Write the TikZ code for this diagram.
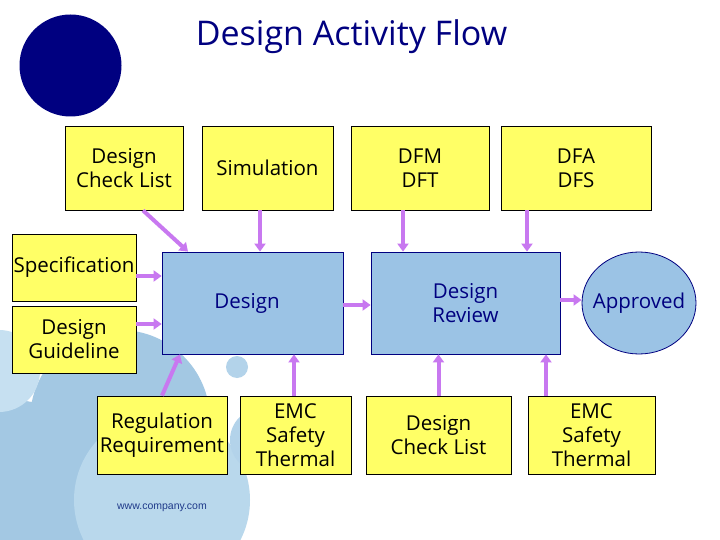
\documentclass[tikz,border=0pt]{standalone}
\usepackage{fontspec}
\setmainfont{Open Sans}
\newfontfamily\webfont{Liberation Sans}
\usetikzlibrary{arrows.meta,shapes.geometric}
\definecolor{navy}{HTML}{000080}
\definecolor{boxyellow}{HTML}{FFFF66}
\definecolor{boxblue}{HTML}{9BC3E5}
\definecolor{arrowviolet}{HTML}{C878F0}
\definecolor{bgmid}{HTML}{A3C8E3}
\definecolor{bglight}{HTML}{B9D8EC}
\definecolor{bglighter}{HTML}{C6E0F1}
\definecolor{bgsmall}{HTML}{B3D3EA}
\definecolor{webblue}{HTML}{1F3A8A}
\tikzset{
  ybox/.style={draw=black, line width=0.8pt, fill=boxyellow, inner sep=0pt, align=center,
    font=\fontsize{20.5}{24}\selectfont},
  bbox/.style={draw=navy, line width=0.8pt, fill=boxblue, text=navy, inner sep=0pt, align=center,
    font=\fontsize{20.5}{24}\selectfont},
  arr/.style={draw=arrowviolet, line width=4pt, -{Triangle[length=8pt,width=11pt]}}
}
\begin{document}
\begin{tikzpicture}[x=1pt,y=-1pt]
\useasboundingbox (0,0) rectangle (720,540);
\fill[white] (0,0) rectangle (720,540);
\begin{scope}
  \clip (0,0) rectangle (720,540);
  \fill[bgmid] (120,420) circle[radius=90];
  \fill[bgmid] (10,520) circle[radius=120];
  \fill[bglighter] (-1,371) circle[radius=41];
  \fill[bglight] (162,500) circle[radius=88];
  \fill[bgsmall] (262,440) circle[radius=32];
  \fill[bgsmall] (237,367) circle[radius=11];
\end{scope}
\fill[navy] (70.5,65.5) circle[radius=51];
\node[text=navy, font=\fontsize{34}{40}\selectfont, anchor=base] (title) at (351.5,46) {Design Activity Flow};

\node[ybox, minimum width=118pt, minimum height=84pt] (dcl1) at (124,168) {Design\\Check List};
\node[ybox, minimum width=131pt, minimum height=84pt] (sim) at (267.5,168) {Simulation};
\node[ybox, minimum width=138pt, minimum height=84pt] (dfm) at (420,168) {DFM\\DFT};
\node[ybox, minimum width=150pt, minimum height=84pt] (dfa) at (576,168) {DFA\\DFS};
\node[ybox, minimum width=124pt, minimum height=67pt] (spec) at (74,267.5) {Specification};
\node[ybox, minimum width=124pt, minimum height=67pt] (guide) at (74,339.5) {Design\\Guideline};
\node[bbox, minimum width=181pt, minimum height=102pt] (design) at (252.5,303) {\makebox[0pt]{\hspace*{-11pt}Design}};
\node[bbox, minimum width=189pt, minimum height=102pt] (review) at (465.5,303) {Design\\Review};
\node[bbox, ellipse, minimum width=114pt, minimum height=102pt] (appr) at (639,303) {\makebox[0pt]{Approved}};
\node[ybox, minimum width=130pt, minimum height=78pt] (reg) at (162,435) {Regulation\\Requirement};
\node[ybox, minimum width=111pt, minimum height=78pt] (emc1) at (295.5,435) {EMC\\Safety\\Thermal};
\node[ybox, minimum width=145pt, minimum height=78pt] (dcl2) at (438.5,435) {Design\\Check List};
\node[ybox, minimum width=127pt, minimum height=78pt] (emc2) at (591.5,435) {EMC\\Safety\\Thermal};
\node[text=webblue, font=\webfont\fontsize{10.5}{12}\selectfont] (web) at (162,508) {www.company.com};

\draw[arr] ([xshift=19pt]dcl1.south) -- ([xshift=-64.5pt]design.north);
\draw[arr] ([xshift=-7.5pt]sim.south) -- ([xshift=7.5pt]design.north);
\draw[arr] ([xshift=-17pt]dfm.south) -- ([xshift=-62.5pt]review.north);
\draw[arr] ([xshift=-49pt]dfa.south) -- ([xshift=61.5pt]review.north);
\draw[arr] ([yshift=-8.5pt]spec.east) -- ([yshift=-8.5pt]spec.east -| design.west);
\draw[arr] ([yshift=15.5pt]guide.east) -- ([yshift=15.5pt]guide.east -| design.west);
\draw[arr] (reg.north) -- ([xshift=-72.5pt]design.south);
\draw[arr] ([xshift=-1.5pt]emc1.north) -- ([xshift=-1.5pt]emc1.north |- design.south);
\draw[arr] ([yshift=-2pt]design.east) -- ([yshift=-2pt]design.east -| review.west);
\draw[arr] (dcl2.north) -- (dcl2.north |- review.south);
\draw[arr] ([xshift=-45.5pt]emc2.north) -- ([xshift=-45.5pt]emc2.north |- review.south);
\draw[arr] ([yshift=3pt]review.east) -- ([yshift=3pt]review.east -| appr.west);
\end{tikzpicture}
\end{document}
